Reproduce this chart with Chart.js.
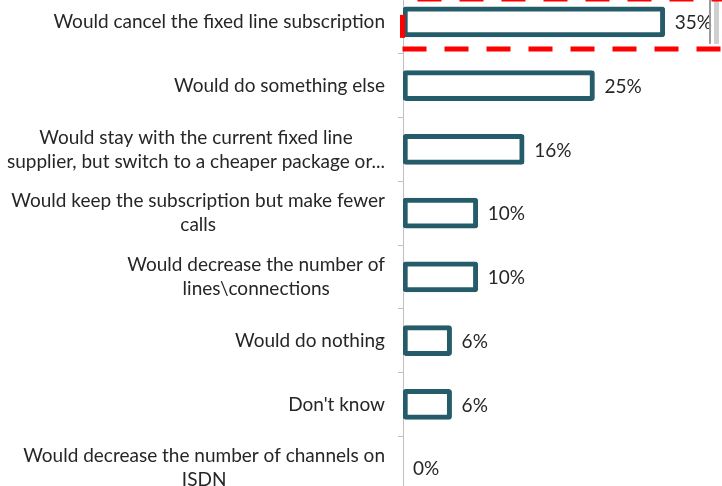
<!DOCTYPE html>
<html>
<head>
<meta charset="utf-8">
<script src="https://cdn.jsdelivr.net/npm/chart.js@4.4.1/dist/chart.umd.min.js"></script>
<style>
  html, body { margin: 0; padding: 0; background: #fff; overflow: hidden; }
  #wrap { position: absolute; left: 0; top: -10px; width: 722px; height: 510px; }
</style>
</head>
<body>
<div id="wrap"><canvas id="chart" width="722" height="510"></canvas></div>
<script>
const categories = [
    ["Would cancel the fixed line subscription"],
    ["Would do something else"],
    ["Would stay with the current fixed line", "supplier, but switch to a cheaper package or..."],
    ["Would keep the subscription but make fewer", "calls"],
    ["Would decrease the number of", "lines\\connections"],
    ["Would do nothing"],
    ["Don't know"],
    ["Would decrease the number of channels on", "ISDN"]
];
const values = [35, 25.6, 16.2, 10, 10, 6.5, 6.5, 0];
const valueLabels = ["35%", "25%", "16%", "10%", "10%", "6%", "6%", "0%"];

const FONT = '19px Lato';
const TEXT = '#262626';
const BAR = '#255C6A';

// category labels: lines centred on each other, block right-aligned to axis
const labelPlugin = {
    id: 'labels',
    afterDraw(chart) {
        const ctx = chart.ctx;
        const y = chart.scales.y;
        const right = chart.chartArea.left - 18;
        const lh = 24;
        ctx.save();
        ctx.font = FONT;
        ctx.fillStyle = TEXT;
        ctx.textAlign = 'center';
        ctx.textBaseline = 'middle';
        categories.forEach((lines, i) => {
            const maxW = Math.max(...lines.map(l => ctx.measureText(l).width));
            const cx = right - maxW / 2;
            const cy = y.getPixelForValue(i);
            lines.forEach((l, k) => {
                ctx.fillText(l, cx, cy + (k - (lines.length - 1) / 2) * lh);
            });
        });
        // value labels
        const meta = chart.getDatasetMeta(0);
        ctx.textAlign = 'left';
        meta.data.forEach((bar, i) => {
            ctx.fillText(valueLabels[i], bar.x + 10, bar.y + 1);
        });
        ctx.restore();
    }
};

// red dashed highlight box round the first bar, plus the grey edge at right
const highlightPlugin = {
    id: 'highlight',
    afterDraw(chart) {
        const ctx = chart.ctx;
        const area = chart.chartArea;
        const y0 = chart.scales.y.getPixelForValue(0);
        const top = y0 - 23, bottom = y0 + 27;
        const left = area.left - 0.5;
        ctx.save();
        // grey edge
        ctx.fillStyle = '#9a9a9a';
        ctx.fillRect(area.right - 13, 0, 2, bottom - 5);
        ctx.fillStyle = '#cfcfcf';
        ctx.fillRect(area.right - 8, 0, 5, bottom - 5);
        ctx.strokeStyle = '#ff0000';
        ctx.lineWidth = 5;
        ctx.setLineDash([24, 18]);
        ctx.beginPath();
        ctx.moveTo(left, bottom);
        ctx.lineTo(area.right + 40, bottom);
        ctx.stroke();
        ctx.lineDashOffset = -15;
        ctx.beginPath();
        ctx.moveTo(left, top);
        ctx.lineTo(area.right + 40, top);
        ctx.stroke();
        ctx.lineDashOffset = 0;
        ctx.beginPath();
        ctx.moveTo(left, y0 - 7);
        ctx.lineTo(left, y0 + 16);
        ctx.stroke();
        ctx.restore();
    }
};

new Chart(document.getElementById('chart'), {
    type: 'bar',
    data: {
        labels: categories,
        datasets: [{
            data: values,
            backgroundColor: '#ffffff',
            borderColor: BAR,
            borderWidth: 5,
            borderRadius: 3,
            borderSkipped: false,
            barThickness: 30
        }]
    },
    options: {
        indexAxis: 'y',
        responsive: false,
        animation: false,
        devicePixelRatio: 1,
        layout: { padding: 0 },
        plugins: { legend: { display: false }, tooltip: { enabled: false } },
        scales: {
            x: { display: false, min: 0, max: 42.65 },
            y: {
                afterFit: s => { s.width = 403; },
                ticks: { display: false },
                border: { display: true, color: '#c0c0c0', width: 1 },
                grid: { drawOnChartArea: false, drawTicks: true, tickLength: 5, color: '#c0c0c0', offset: true }
            }
        }
    },
    plugins: [labelPlugin, highlightPlugin]
});
</script>
</body>
</html>
